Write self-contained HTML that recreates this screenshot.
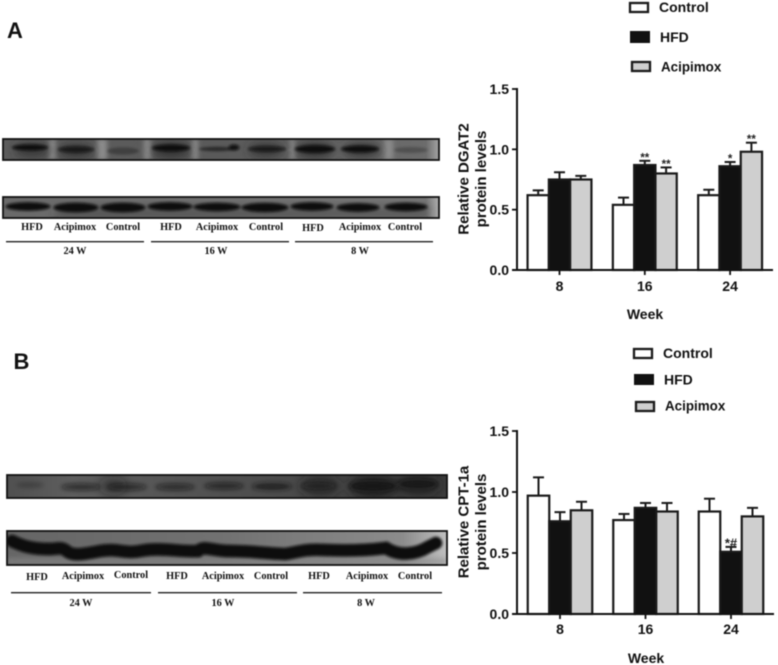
<!DOCTYPE html>
<html lang="en">
<head>
<meta charset="utf-8">
<title>DGAT2 and CPT-1a protein levels</title>
<style>
html,body{margin:0;padding:0;background:#fff;width:778px;height:665px;overflow:hidden}
svg{display:block;filter:blur(0.4px)}
.sans{font-family:"Liberation Sans",Arial,sans-serif;font-weight:bold;fill:#111}
.serif{font-family:"Liberation Serif","Times New Roman",serif;font-weight:bold;font-size:10.3px;fill:#111;text-anchor:middle}
.leg{font-size:14px}
.leg-long{font-size:13.4px}
.tick{font-size:14px}
.ytitle{font-size:15px;text-anchor:middle}
.week{font-size:14px;text-anchor:middle}
</style>
</head>
<body>
<svg id="figure" width="778" height="665" viewBox="0 0 778 665" xmlns="http://www.w3.org/2000/svg">
<defs>
<filter id="b1" x="-30%" y="-100%" width="160%" height="300%"><feGaussianBlur stdDeviation="1.3"/></filter>
<filter id="b2" x="-30%" y="-100%" width="160%" height="300%"><feGaussianBlur stdDeviation="2.4"/></filter>
<filter id="b3" x="-30%" y="-100%" width="160%" height="300%"><feGaussianBlur stdDeviation="5"/></filter>
<clipPath id="cA1"><rect x="3" y="139" width="436" height="21"/></clipPath>
<clipPath id="cA2"><rect x="3" y="197" width="436" height="21"/></clipPath>
<clipPath id="cB1"><rect x="7" y="475" width="440" height="23"/></clipPath>
<clipPath id="cB2"><rect x="7" y="531" width="440" height="34"/></clipPath>
<linearGradient id="gA1" x1="0" x2="1" y1="0" y2="0"><stop offset="0" stop-color="#5c5c5c"/><stop offset=".5" stop-color="#5a5a5a"/><stop offset=".97" stop-color="#6c6c6c"/><stop offset="1" stop-color="#a4a4a4"/></linearGradient>
<linearGradient id="gA2" x1="0" x2="1" y1="0" y2="0"><stop offset="0" stop-color="#6a6a6a"/><stop offset=".97" stop-color="#747474"/><stop offset="1" stop-color="#b0b0b0"/></linearGradient>
<linearGradient id="gB1" x1="0" x2="1" y1="0" y2="0"><stop offset="0" stop-color="#505050"/><stop offset=".15" stop-color="#5e5e5e"/><stop offset=".6" stop-color="#4c4c4c"/><stop offset="1" stop-color="#3c3c3c"/></linearGradient>
<linearGradient id="gB2" x1="0" x2="1" y1="0" y2="0"><stop offset="0" stop-color="#666666"/><stop offset=".5" stop-color="#727272"/><stop offset=".9" stop-color="#8c8c8c"/><stop offset="1" stop-color="#c0c0c0"/></linearGradient>
</defs>

<text class="sans" x="7" y="38" font-size="22">A</text>
<text class="sans" x="13.5" y="369" font-size="22">B</text>

<g>
<rect x="630" y="3" width="18" height="9" fill="#fff" stroke="#1a1a1a" stroke-width="2.3"/>
<text class="sans leg" x="659" y="12">Control</text>
<rect x="631" y="32" width="18" height="10" fill="#111" stroke="#111" stroke-width="2"/>
<text class="sans leg" x="660" y="42">HFD</text>
<rect x="632" y="62" width="18" height="9" fill="#cfcfcf" stroke="#1a1a1a" stroke-width="2.3"/>
<text class="sans leg leg-long" x="661" y="71.5">Acipimox</text>
</g>

<g>
<rect x="634" y="349" width="18" height="9" fill="#fff" stroke="#1a1a1a" stroke-width="2.3"/>
<text class="sans leg" x="663" y="358">Control</text>
<rect x="635" y="375" width="18" height="9" fill="#111" stroke="#111" stroke-width="2"/>
<text class="sans leg" x="664" y="384.5">HFD</text>
<rect x="636" y="402" width="18" height="9" fill="#cfcfcf" stroke="#1a1a1a" stroke-width="2.3"/>
<text class="sans leg leg-long" x="665" y="410.5">Acipimox</text>
</g>

<g clip-path="url(#cA1)">
<rect x="3" y="139" width="436" height="21" fill="url(#gA1)"/>
<g fill="#8c8c8c" filter="url(#b2)">
<rect x="49" y="139" width="7" height="21"/><rect x="97" y="139" width="10" height="21"/><rect x="144" y="139" width="7" height="21"/><rect x="192" y="139" width="6" height="21"/><rect x="290" y="139" width="5" height="21"/><rect x="384" y="139" width="9" height="21"/>
</g>
<g filter="url(#b3)" fill="#2c2c2c">
<ellipse cx="32" cy="150" rx="18" ry="7" opacity=".8"/><ellipse cx="76" cy="151" rx="18" ry="7" opacity=".8"/><ellipse cx="171" cy="150" rx="19" ry="8" opacity=".9"/><ellipse cx="266" cy="150" rx="18" ry="7" opacity=".8"/><ellipse cx="315" cy="150" rx="19" ry="8" opacity=".9"/><ellipse cx="362" cy="150" rx="19" ry="7" opacity=".85"/>
</g>
<g filter="url(#b1)" fill="#0a0a0a">
<ellipse cx="30" cy="147.5" rx="18" ry="3"/><ellipse cx="76" cy="149.5" rx="18" ry="3.2" opacity=".8"/><ellipse cx="123" cy="151" rx="16" ry="3.6" opacity=".3"/><ellipse cx="171" cy="148" rx="19" ry="3.4"/><ellipse cx="217" cy="149" rx="18" ry="2.2" opacity=".55"/><ellipse cx="234" cy="147.5" rx="5.5" ry="3" opacity=".95"/><ellipse cx="267" cy="149" rx="19" ry="2.8" opacity=".8"/><ellipse cx="315" cy="149" rx="20" ry="3.8"/><ellipse cx="360" cy="149" rx="19" ry="3.4"/><ellipse cx="411" cy="150" rx="17" ry="3" opacity=".25"/>
</g>
</g>
<rect x="3" y="139" width="436" height="21" fill="none" stroke="#111" stroke-width="1.8"/>

<g clip-path="url(#cA2)">
<rect x="3" y="197" width="436" height="21" fill="url(#gA2)"/>
<g fill="#222" filter="url(#b3)"><rect x="55" y="209" width="375" height="8" opacity=".45"/></g>
<g fill="#080808" filter="url(#b1)">
<ellipse cx="28" cy="206.5" rx="22.5" ry="4.2"/><ellipse cx="76" cy="207.5" rx="22.5" ry="4.8"/><ellipse cx="123" cy="207.5" rx="22.5" ry="4.8"/><ellipse cx="170" cy="206.5" rx="22.5" ry="4.2"/><ellipse cx="217" cy="207" rx="23.5" ry="4.2"/><ellipse cx="265" cy="207.5" rx="23.5" ry="4.6"/><ellipse cx="312" cy="206.5" rx="21.5" ry="4.2"/><ellipse cx="358" cy="207.5" rx="21.5" ry="4.2"/><ellipse cx="406" cy="207" rx="21.5" ry="4.2"/>
</g>
</g>
<rect x="3" y="197" width="436" height="21" fill="none" stroke="#111" stroke-width="1.8"/>

<g>
<text class="serif" x="32" y="230">HFD</text><text class="serif" x="75" y="230">Acipimox</text><text class="serif" x="123" y="230">Control</text>
<text class="serif" x="171" y="230">HFD</text><text class="serif" x="217" y="230">Acipimox</text><text class="serif" x="266" y="230">Control</text>
<text class="serif" x="313" y="231">HFD</text><text class="serif" x="360" y="230">Acipimox</text><text class="serif" x="405" y="230">Control</text>
</g>
<g stroke="#222" stroke-width="1.3">
<line x1="6" x2="144" y1="241.7" y2="241.7"/><line x1="151" x2="289" y1="241.7" y2="241.7"/><line x1="295" x2="433" y1="241.7" y2="241.7"/>
</g>
<g>
<text class="serif" x="75" y="254">24 W</text><text class="serif" x="216" y="254">16 W</text><text class="serif" x="360" y="254">8 W</text>
</g>

<g clip-path="url(#cB1)">
<rect x="7" y="475" width="440" height="23" fill="url(#gB1)"/>
<g filter="url(#b3)" fill="#1c1c1c">
<ellipse cx="113" cy="486" rx="14" ry="9" opacity=".5"/><ellipse cx="320" cy="486" rx="20" ry="10" opacity=".65"/><ellipse cx="373" cy="487" rx="24" ry="12" opacity=".9"/><ellipse cx="418" cy="485" rx="22" ry="10" opacity=".75"/>
</g>
<g filter="url(#b2)" fill="#141414">
<ellipse cx="30" cy="485" rx="14" ry="3" opacity=".25"/><ellipse cx="81" cy="487" rx="20" ry="3.4" opacity=".65"/><ellipse cx="127" cy="487" rx="20" ry="3.4" opacity=".65"/><ellipse cx="175" cy="487" rx="20" ry="3.2" opacity=".65"/><ellipse cx="224" cy="486" rx="20" ry="3.2" opacity=".7"/><ellipse cx="272" cy="486.5" rx="20" ry="3.4" opacity=".85"/><ellipse cx="318" cy="486" rx="18" ry="3.4" opacity=".5"/><ellipse cx="373" cy="486" rx="24" ry="4.6" opacity="1"/><ellipse cx="418" cy="484" rx="20" ry="3.8" opacity="1"/>
</g>
</g>
<rect x="7" y="475" width="440" height="23" fill="none" stroke="#111" stroke-width="1.8"/>

<g clip-path="url(#cB2)">
<rect x="7" y="531" width="440" height="34" fill="url(#gB2)"/>
<rect x="7" y="558" width="440" height="7" fill="#8c8c8c" opacity=".55" filter="url(#b2)"/>
<path d="M12 541 C22 546 32 549 50 549 C58 549 62 546 68 552 C74 556 84 554 100 551 C118 548 125 554 140 551 C160 547 180 552 198 551 C204 545 212 551 230 551 C250 551 262 553 285 554 C300 552 302 549 325 550 C350 551 370 550 386 548 C398 556 415 555 428 547 L436 543" fill="none" stroke="#0a0a0a" stroke-width="12.5" stroke-linecap="round" filter="url(#b1)"/>
</g>
<rect x="7" y="531" width="440" height="34" fill="none" stroke="#111" stroke-width="1.8"/>

<g>
<text class="serif" x="37" y="580">HFD</text><text class="serif" x="83" y="579">Acipimox</text><text class="serif" x="131" y="578">Control</text>
<text class="serif" x="177" y="579">HFD</text><text class="serif" x="223" y="579">Acipimox</text><text class="serif" x="271" y="579">Control</text>
<text class="serif" x="319" y="579">HFD</text><text class="serif" x="367" y="579">Acipimox</text><text class="serif" x="415" y="579">Control</text>
</g>
<g stroke="#222" stroke-width="1.3">
<line x1="11" x2="151" y1="592.7" y2="592.7"/><line x1="158" x2="297" y1="592.7" y2="592.7"/><line x1="303" x2="442" y1="592.7" y2="592.7"/>
</g>
<g>
<text class="serif" x="81" y="606">24 W</text><text class="serif" x="223" y="606">16 W</text><text class="serif" x="366" y="606">8 W</text>
</g>

<g>
<text class="sans ytitle" transform="translate(468.5,179) rotate(-90)">Relative DGAT2</text>
<text class="sans ytitle" transform="translate(486,179) rotate(-90)">protein levels</text>
</g>
<g>
<text class="sans ytitle" transform="translate(468.5,522) rotate(-90)">Relative CPT-1a</text>
<text class="sans ytitle" transform="translate(486,522) rotate(-90)">protein levels</text>
</g>
<text class="sans week" x="645" y="319">Week</text>
<text class="sans week" x="646" y="663">Week</text>

<g id="chart-a"></g>
<g id="chart-b"></g>
</svg>

<script>
var weeks = ["8", "16", "24"];
var yTicks = [0, 0.5, 1, 1.5];
var seriesKeys = ["control", "hfd", "acipimox"];

var dgat2Control = [0.62, 0.54, 0.62];
var dgat2Hfd = [0.75, 0.87, 0.86];
var dgat2Acipimox = [0.75, 0.80, 0.98];
var dgat2ControlErr = [0.04, 0.06, 0.045];
var dgat2HfdErr = [0.06, 0.035, 0.035];
var dgat2AcipimoxErr = [0.03, 0.05, 0.075];
var dgat2ControlMarks = ["", "", ""];
var dgat2HfdMarks = ["", "**", "*"];
var dgat2AcipimoxMarks = ["", "**", "**"];

var cptControl = [0.97, 0.77, 0.84];
var cptHfd = [0.76, 0.87, 0.51];
var cptAcipimox = [0.85, 0.84, 0.80];
var cptControlErr = [0.15, 0.05, 0.105];
var cptHfdErr = [0.075, 0.04, 0.04];
var cptAcipimoxErr = [0.07, 0.07, 0.07];
var cptControlMarks = ["", "", ""];
var cptHfdMarks = ["", "", "*#"];
var cptAcipimoxMarks = ["", "", ""];

var SVGNS = "http://www.w3.org/2000/svg";
var fills = ["#ffffff", "#111111", "#cfcfcf"];

function add(parent, tag, attrs, name) {
  var el = document.createElementNS(SVGNS, tag);
  for (var k in attrs) el.setAttribute(k, attrs[k]);
  
  
  parent.appendChild(el);
  return el;
}

function drawChart(rootId, frame, values, errors, marks) {
  var root = document.getElementById(rootId);
  var barW = frame.barW;
  function yScale(v) { return frame.y0 - v * (frame.y0 - frame.yTop) / 1.5; }
  function xCenter(i) { return frame.first + i * frame.step; }
  function xBar(i, s) { return xCenter(i) + (s - 1.5) * barW; }

  seriesKeys.forEach(function (key, s) {
    weeks.forEach(function (week, i) {
      var x = xBar(i, s), top = yScale(values[s][i]), capY = yScale(values[s][i] + errors[s][i]);
      var cx = x + barW / 2;
      add(root, 'line', {x1: cx, x2: cx, y1: top, y2: capY, stroke: '#1a1a1a', 'stroke-width': 2}, 'error-stem-' + key + '-' + week);
      add(root, 'line', {x1: cx - 5.5, x2: cx + 5.5, y1: capY, y2: capY, stroke: '#1a1a1a', 'stroke-width': 2}, 'error-cap-' + key + '-' + week);
      add(root, 'rect', {x: x, y: top, width: barW, height: frame.y0 - top, fill: fills[s], stroke: '#1a1a1a', 'stroke-width': 2.2}, 'bar-' + key + '-' + week);
      if (marks[s][i]) {
        var t = add(root, 'text', {x: cx, y: capY + 0.5, 'font-size': marks[s][i] === '*#' ? 13 : 11.5, 'font-weight': 'bold', 'text-anchor': 'middle', 'font-family': '"Liberation Sans",Arial,sans-serif', fill: '#222'}, 'significance-' + key + '-' + week);
        t.textContent = marks[s][i];
      }
    });
  });

  add(root, 'line', {x1: frame.x0, x2: frame.x0, y1: frame.yTop - 1, y2: frame.y0 + 1, stroke: '#111', 'stroke-width': 2}, 'y-axis');
  add(root, 'line', {x1: frame.x0 - 5, x2: frame.xEnd, y1: frame.y0, y2: frame.y0, stroke: '#111', 'stroke-width': 2}, 'x-axis');

  yTicks.forEach(function (v) {
    var y = yScale(v);
    add(root, 'line', {x1: frame.x0 - 5, x2: frame.x0, y1: y, y2: y, stroke: '#111', 'stroke-width': 1.8}, 'y-tick-' + v.toFixed(1));
    var t = add(root, 'text', {x: frame.x0 - 8, y: y + 5, 'text-anchor': 'end', 'class': 'sans tick'}, 'y-tick-label-' + v.toFixed(1));
    t.textContent = v.toFixed(1);
  });

  weeks.forEach(function (week, i) {
    var x = xCenter(i);
    add(root, 'line', {x1: x, x2: x, y1: frame.y0, y2: frame.y0 + 5, stroke: '#111', 'stroke-width': 1.8}, 'x-tick-' + week);
    var t = add(root, 'text', {x: x, y: frame.labelY, 'text-anchor': 'middle', 'class': 'sans tick'}, 'x-tick-label-' + week);
    t.textContent = week;
  });
}

drawChart('chart-a',
  {x0: 517, xEnd: 773, y0: 270, yTop: 89, first: 559.5, step: 85.3, barW: 21.3, labelY: 291},
  [dgat2Control, dgat2Hfd, dgat2Acipimox],
  [dgat2ControlErr, dgat2HfdErr, dgat2AcipimoxErr],
  [dgat2ControlMarks, dgat2HfdMarks, dgat2AcipimoxMarks]);

drawChart('chart-b',
  {x0: 517, xEnd: 774, y0: 614, yTop: 431, first: 560, step: 85.5, barW: 21.5, labelY: 634},
  [cptControl, cptHfd, cptAcipimox],
  [cptControlErr, cptHfdErr, cptAcipimoxErr],
  [cptControlMarks, cptHfdMarks, cptAcipimoxMarks]);
</script>
</body>
</html>
